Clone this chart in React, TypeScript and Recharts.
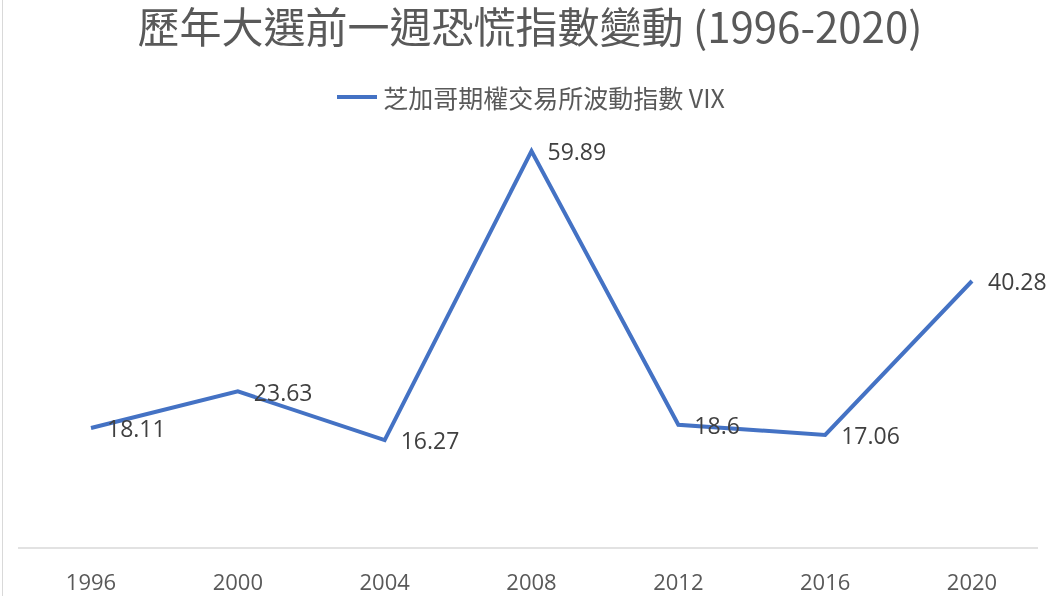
import React from "react";
import { LineChart, Line, XAxis, YAxis, LabelList, Legend } from "recharts";

const years = ["1996", "2000", "2004", "2008", "2012", "2016", "2020"];
const vix = [18.11, 23.63, 16.27, 59.89, 18.6, 17.06, 40.28];
const seriesName = "芝加哥期權交易所波動指數 VIX";
const title = "歷年大選前一週恐慌指數變動 (1996-2020)";

const data = years.map((y, i) => ({ year: y, vix: vix[i] }));

const FONT = "'Open Sans', 'Noto Sans CJK TC', sans-serif";
const CJK = "'Noto Sans CJK TC', 'Open Sans', sans-serif";

const renderLabel = (props: any) => {
  const { x, y, value } = props;
  return (
    <text x={x + 16} y={y + 3} dominantBaseline="middle" fontSize={23} fill="#404040" fontFamily={FONT}>
      {value}
    </text>
  );
};

const renderLegend = () => (
  <div style={{ display: "flex", alignItems: "center", justifyContent: "center", fontFamily: CJK, fontSize: 25, lineHeight: "30px", color: "#595959" }}>
    <svg width={44} height={10} style={{ marginRight: 4 }}>
      <line x1={2} y1={5} x2={42} y2={5} stroke="#4472C4" strokeWidth={4} />
    </svg>
    <span>{seriesName}</span>
  </div>
);

export default function App() {
  return (
    <div style={{ position: "fixed", left: 0, top: 0, width: 1060, height: 596, background: "#fff" }}>
      <div style={{ position: "absolute", left: 2, top: 0, width: 1, height: 596, background: "#d9d9d9" }} />
      <div
        style={{
          position: "absolute",
          left: 80,
          top: 2,
          width: 900,
          textAlign: "center",
          fontFamily: CJK,
          fontSize: 42,
          lineHeight: "46px",
          color: "#595959",
          whiteSpace: "nowrap",
        }}
      >
        {title}
      </div>
      <LineChart width={1060} height={596} data={data} margin={{ top: 84, right: 22, bottom: 0, left: 18 }}>
        <XAxis
          dataKey="year"
          height={48}
          padding={{ left: 73, right: 66 }}
          tickLine={false}
          tickMargin={20}
          axisLine={{ stroke: "#d9d9d9", strokeWidth: 1.5 }}
          tick={{ fontSize: 22, fill: "#595959", fontFamily: FONT }}
        />
        <YAxis hide domain={[0, 70]} />
        <Legend
          verticalAlign="top"
          align="center"
          content={renderLegend}
          wrapperStyle={{ position: "absolute", top: 82, left: 0, width: 1060, height: 0, overflow: "visible" }}
        />
        <Line
          type="linear"
          dataKey="vix"
          name={seriesName}
          stroke="#4472C4"
          strokeWidth={4}
          dot={false}
          isAnimationActive={false}
        >
          <LabelList dataKey="vix" content={renderLabel} />
        </Line>
      </LineChart>
    </div>
  );
}
